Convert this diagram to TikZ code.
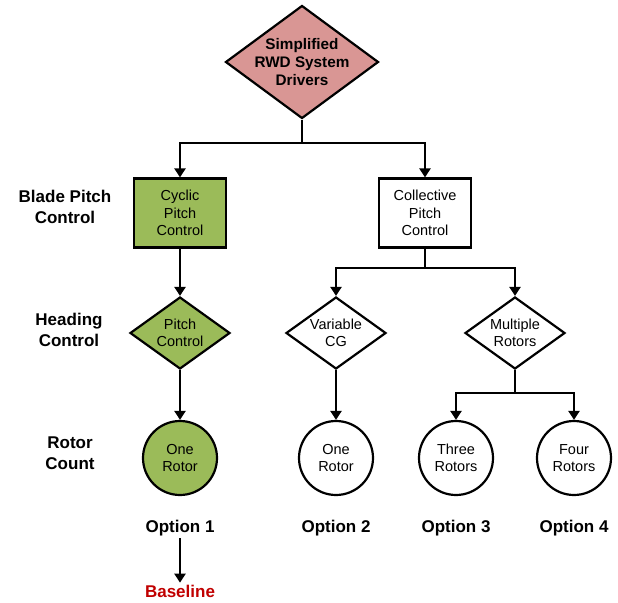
\documentclass[tikz,border=0pt]{standalone}
\usepackage{fontspec}
\setmainfont{Liberation Sans}
\usetikzlibrary{arrows.meta, shapes.geometric}
\definecolor{cgreen}{HTML}{9BBB59}
\definecolor{cpink}{HTML}{D99694}
\definecolor{cred}{HTML}{C00000}
\tikzset{
  every picture/.style={line width=2.2pt},
  nodetext/.style={font=\fontsize{14.5}{17.5}\selectfont, align=center},
  box/.style={nodetext, draw, fill=#1, minimum width=92pt, minimum height=69pt, inner sep=2pt},
  box/.default=white,
  choice/.style={nodetext, draw, fill=#1, diamond, aspect=1.39, inner sep=0pt, minimum width=100pt, minimum height=72pt},
  choice/.default=white,
  rotor/.style={nodetext, draw, fill=#1, circle, minimum size=74pt, inner sep=0pt},
  rotor/.default=white,
  arrow/.style={-{Triangle[length=9pt, width=11pt]}},
  level/.style={font=\bfseries\fontsize{17}{20.5}\selectfont, align=center, inner sep=1pt},
}

\begin{document}
\begin{tikzpicture}[x=1pt, y=-1pt]
  \useasboundingbox (0,0) rectangle (618,602);

  % top
  \node[choice=cpink, minimum width=153pt, minimum height=113pt, aspect=1.35, inner sep=-3pt,
        font=\bfseries\fontsize{15.3}{18.3}\selectfont] (drivers) at (302,62) {Simplified\\RWD System\\Drivers};

  % row labels
  \node[level] (blade) at (65,207) {Blade Pitch\\Control};
  \node[level] (heading) at (69,330) {Heading\\Control};
  \node[level] (count) at (70,453) {Rotor\\Count};

  % blade pitch
  \node[box=cgreen] (cyclic) at (180,213) {Cyclic\\Pitch\\Control};
  \node[box] (collective) at (425,213) {Collective\\Pitch\\Control};
  \coordinate (s1) at (302,143);
  \draw[arrow] (drivers.south) -- (s1) -| (cyclic.north);
  \draw[arrow] (s1) -| (collective.north);

  % heading
  \node[choice=cgreen] (pitch) at (180,333) {Pitch\\Control};
  \node[choice] (cg) at (336,333) {Variable\\CG};
  \node[choice] (multi) at (515,333) {Multiple\\Rotors};
  \coordinate (s2) at (425,268);
  \draw[arrow] (cyclic) -- (pitch);
  \draw[arrow] (collective.south) -- (s2) -| (cg.north);
  \draw[arrow] (s2) -| (multi.north);

  % rotor count
  \node[rotor=cgreen] (one1) at (180,458) {One\\Rotor};
  \node[rotor] (one2) at (336,458) {One\\Rotor};
  \node[rotor] (three) at (456,458) {Three\\Rotors};
  \node[rotor] (four) at (574,458) {Four\\Rotors};
  \coordinate (s3) at (515,393);
  \draw[arrow] (pitch) -- (one1);
  \draw[arrow] (cg) -- (one2);
  \draw[arrow] (multi.south) -- (s3) -| (three.north);
  \draw[arrow] (s3) -| (four.north);

  % options
  \node[level] (opt1) at (180,528) {Option 1};
  \node[level] (opt2) at (336,528) {Option 2};
  \node[level] (opt3) at (456,528) {Option 3};
  \node[level] (opt4) at (574,528) {Option 4};
  \node[level, text=cred] (base) at (180,591) {Baseline};
  \draw[arrow] (opt1) -- (base);
\end{tikzpicture}
\end{document}
